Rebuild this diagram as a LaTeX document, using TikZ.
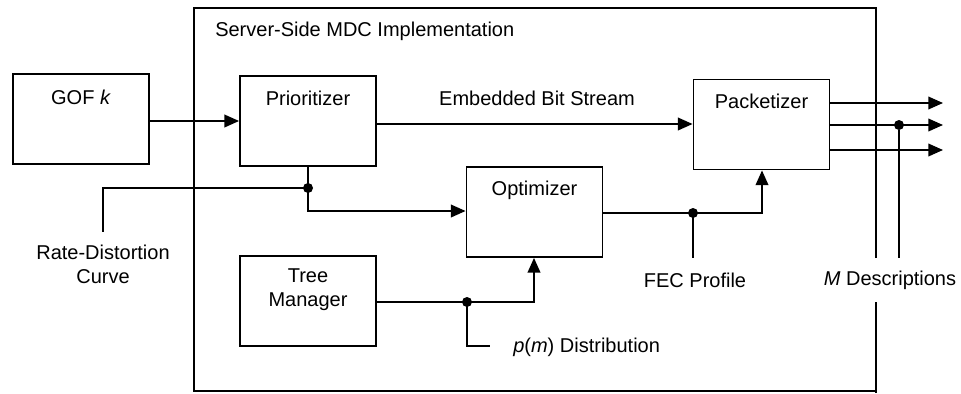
\documentclass[tikz,border=0pt]{standalone}
\usepackage{fontspec}
\setmainfont{Liberation Sans}
\usetikzlibrary{arrows.meta}
\begin{document}
\begin{tikzpicture}[x=0.75pt,y=-0.75pt,
  every node/.style={font=\fontsize{15}{18}\selectfont, inner sep=0pt},
  blk/.style={draw, line width=1.4pt, minimum width=102pt, minimum height=67.5pt},
  wire/.style={line width=1.2pt},
  arr/.style={wire, -{Triangle[length=11pt,width=9.5pt]}},
  jdot/.style={circle, fill=black, minimum size=7.5pt, inner sep=0pt}]
\useasboundingbox (0,0) rectangle (961,393);
% frame
\draw[line width=1.4pt] (876,258) -- (876,8) -- (194,8) -- (194,391) -- (876,391);
\draw[line width=1.4pt] (876,302) -- (876,393);
\node[anchor=west] (title) at (215,31) {Server-Side MDC Implementation};
% blocks
\node[blk] (gof) at (81,119) {};
\node (goft) at (81,97) {GOF \textit{k}};
\node[blk] (prio) at (308,121) {};
\node (priot) at (308,98) {Prioritizer};
\node[blk] (pack) at (761.5,124.5) {};
\node (packt) at (761.5,101) {Packetizer};
\node[blk] (opt) at (534.5,212) {};
\node (optt) at (534.5,190) {Optimizer};
\node[blk] (tree) at (308,301) {};
\node[align=center] (treet) at (308,289.5) {Tree\\Manager};
% GOF -> Prioritizer
\draw[arr] (gof.east |- 0,121) -- (prio.west |- 0,121);
% Embedded bit stream
\draw[arr] (prio.east |- 0,124) -- (pack.west |- 0,124);
\node (ebs) at (537,98) {Embedded Bit Stream};
% outputs
\coordinate (o1) at (943,103);
\coordinate (o2) at (943,125);
\coordinate (o3) at (943,150);
\draw[arr] (pack.east |- o1) -- (o1);
\draw[arr] (pack.east |- o2) -- (o2);
\draw[arr] (pack.east |- o3) -- (o3);
\node[jdot] (j4) at (899,125) {};
\coordinate (j4e) at (899,258);
\draw[wire] (j4) -- (j4e);
\node (md) at (890,280) {\textit{M} Descriptions};
% Rate-distortion
\node[jdot] (j1) at (308,188) {};
\coordinate (rdc) at (103,188);
\coordinate (rde) at (103,232);
\draw[wire] (j1 |- prio.south) -- (j1.center) -- (rdc) -- (rde);
\node[align=center] (rdt) at (103,264) {Rate-Distortion\\Curve};
\coordinate (j1b) at (308,211);
\draw[arr] (j1.center) -- (j1b) -- (opt.west |- j1b);
% Optimizer -> Packetizer
\node[jdot] (j2) at (693,213) {};
\coordinate (ob) at (762,213);
\draw[arr] (opt.east |- ob) -- (ob) -- (pack.south -| ob);
\coordinate (j2e) at (693,258);
\draw[wire] (j2.center) -- (j2e);
\node (fec) at (695,280) {FEC Profile};
% Tree manager -> Optimizer
\node[jdot] (j3) at (467,302) {};
\coordinate (tb) at (534,302);
\draw[arr] (tree.east |- tb) -- (tb) -- (opt.south -| tb);
\coordinate (j3a) at (467,346);
\coordinate (j3b) at (490,346);
\draw[wire] (j3.center) -- (j3a) -- (j3b);
\node[anchor=west] (pmt) at (513,347) {\textit{p}(\textit{m}) Distribution};
\end{tikzpicture}
\end{document}
